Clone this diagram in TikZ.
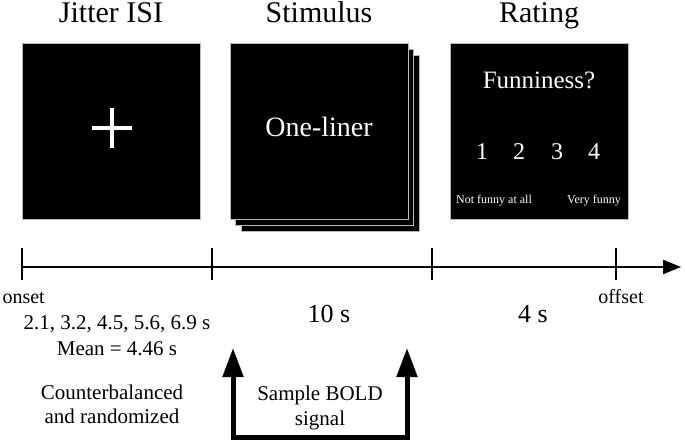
\documentclass[tikz,border=0pt]{standalone}
\usepackage{fontspec}
\setmainfont{Liberation Serif}
\usetikzlibrary{arrows.meta}

\begin{document}
\begin{tikzpicture}[x=1pt, y=-1pt,
    screen/.style={fill=black, draw=gray!55, line width=0.8pt, minimum width=178pt, minimum height=176pt, inner sep=0pt},
    heading/.style={anchor=base, font=\fontsize{30}{33}\selectfont},
    scrtext/.style={anchor=base, text=white},
    txt/.style={anchor=base, font=\fontsize{21}{25}\selectfont},
    bigtip/.tip={Triangle[length=29pt, width=20pt]}]
    \useasboundingbox (0,0) rectangle (685,441);

    % screens
    \node[screen] (stimC) at (330.5,143) {};
    \node[screen] (stimB) at (324.5,137) {};
    \node[screen] (stim) at (319,131) {};
    \node[screen] (isi) at (111,131) {};
    \node[screen] (rating) at (539,131) {};

    \coordinate (cross) at (112,128);
    \draw[white, line width=4pt] (cross) ++(-20,0) -- ++(40,0)
        (cross) ++(0,-20) -- ++(0,40);

    \node[heading] (isiT) at (111,23) {Jitter ISI};
    \node[heading] (stimT) at (319,23) {Stimulus};
    \node[heading] (ratingT) at (539,23) {Rating};

    \node[scrtext, font=\fontsize{28}{32}\selectfont] (liner) at (319,137) {One-liner};
    \node[scrtext, font=\fontsize{25}{30}\selectfont] (funny) at (539,89) {Funniness?};
    \foreach \n/\x in {1/482, 2/519, 3/557, 4/594}
        \node[scrtext, font=\fontsize{24}{28}\selectfont] (r\n) at (\x,159) {\n};
    \node[scrtext, font=\fontsize{12}{14}\selectfont] (low) at (494,203) {Not funny at all};
    \node[scrtext, font=\fontsize{12}{14}\selectfont] (high) at (594,203) {Very funny};

    % time line
    \coordinate (t0) at (22,267);
    \coordinate (t1) at (212,267);
    \coordinate (t2) at (432,267);
    \coordinate (t3) at (616,267);
    \coordinate (tend) at (681,267);
    \draw[line width=2.2pt, -{Triangle[length=18pt, width=14pt]}] (t0) -- (tend);
    \foreach \t in {t0, t1, t2, t3}
        \draw[line width=2.4pt] (\t) ++(0,-19) -- ++(0,32);

    \node[txt, font=\fontsize{20}{22}\selectfont, anchor=base west] (onset) at (-1,303) {onset};
    \node[txt, font=\fontsize{20}{22}\selectfont] (offset) at (621,303) {offset};
    \node[txt, font=\fontsize{26}{30}\selectfont] (dur10) at (329,322) {10 s};
    \node[txt, font=\fontsize{26}{30}\selectfont] (dur4) at (533,322) {4 s};
    \node[txt, align=center, font=\fontsize{21}{26}\selectfont] (jit) at (117,355) {2.1, 3.2, 4.5, 5.6, 6.9 s\\Mean = 4.46 s};
    \node[txt, align=center, font=\fontsize{21}{24}\selectfont] (order) at (112,423) {Counterbalanced\\and randomized};
    \node[txt, align=center, font=\fontsize{21}{25}\selectfont] (bold) at (320,425) {Sample BOLD\\signal};

    % sampling arrows
    \coordinate (s0) at (233,437);
    \coordinate (s1) at (407,437);
    \coordinate (p0) at (233,348);
    \coordinate (p1) at (407,348);
    \draw[line width=5pt, bigtip-bigtip] (p0) -- (s0) -- (s1) -- (p1);
\end{tikzpicture}
\end{document}
